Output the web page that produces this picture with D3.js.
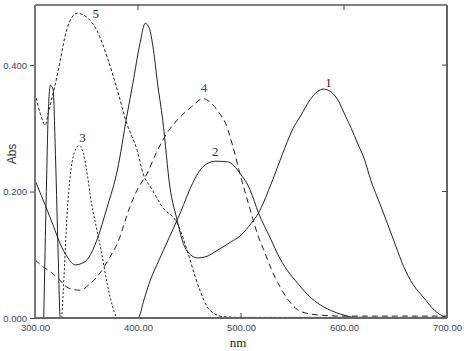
<!DOCTYPE html>
<html>
<head>
<meta charset="utf-8">
<script src="https://cdn.jsdelivr.net/npm/d3@7"></script>
<style>
  body { margin: 0; background: #fff; }
  svg { display: block; }
  .tick text { font-family: "Liberation Sans", Arial, sans-serif; font-size: 9.5px; fill: #3b4660; }
</style>
</head>
<body>
<svg width="464" height="351"></svg>
<script>
// spectra (wavelength in nm, absorbance)
const c1Nm  = [300,310,318,324,332,339,345,352,360,370,380,389,395,402,407,411,415,419,424,431,438,444,451,458,466,477,490,500,510,517,528,540,550,558,567,574,580,587,594,601,607,613,620,626,635,642,650,658,667,677,688,696,700];
const c1Abs = [0.218,0.178,0.145,0.119,0.095,0.084,0.086,0.095,0.123,0.175,0.234,0.318,0.371,0.435,0.466,0.458,0.424,0.371,0.313,0.207,0.155,0.118,0.100,0.095,0.097,0.107,0.120,0.131,0.150,0.166,0.207,0.258,0.298,0.320,0.345,0.358,0.362,0.358,0.345,0.321,0.300,0.277,0.250,0.218,0.180,0.150,0.115,0.081,0.053,0.033,0.012,0.003,0];

const c2Nm  = [308.5,311,313,315,317.5,320,322.5,324.5,360,400,406,412,420,428,441,453,463,475,487,499,509,517,528,535,545,555,564,574,587,599,610,700];
const c2Abs = [0,0.2,0.33,0.368,0.362,0.25,0.1,0,0,0,0.03,0.06,0.09,0.119,0.166,0.213,0.239,0.248,0.247,0.229,0.202,0.166,0.128,0.103,0.075,0.055,0.038,0.024,0.012,0.005,0.001,0];

const c3Nm  = [326,328,331,335,339,343,347,350,355,360,365,370,375,379];
const c3Abs = [0,0.06,0.16,0.235,0.265,0.273,0.26,0.235,0.18,0.14,0.10,0.055,0.02,0];

const c4Nm  = [300,307,315,324,330,337,344,352,363,372,380,392,399,409,418,428,441,452,463,471,478,485,492,499,509,517,522,530,538,546,555,565,574,600,650,700];
const c4Abs = [0.092,0.082,0.073,0.060,0.050,0.045,0.044,0.052,0.071,0.094,0.118,0.175,0.202,0.229,0.262,0.292,0.318,0.334,0.347,0.340,0.326,0.308,0.272,0.228,0.171,0.128,0.108,0.075,0.049,0.028,0.013,0.007,0.005,0.003,0.003,0.003];

const c5Nm  = [300,305,310,313,319,324,329,336,341,350,360,370,380,389,399,405,413,424,438,450,455,461,467,474,483,500,600,700];
const c5Abs = [0.356,0.324,0.305,0.325,0.365,0.403,0.444,0.476,0.482,0.476,0.455,0.413,0.360,0.308,0.266,0.228,0.205,0.175,0.150,0.095,0.068,0.040,0.018,0.007,0.002,0.001,0.001,0.001];

const curveNames = ['1','2','3','4','5'];
const labelNm  = [585, 475, 346, 464, 359];
const labelAbs = [0.365, 0.256, 0.278, 0.357, 0.474];

const xTicks = [300, 400, 500, 600, 700];
const yTicks = [0, 0.2, 0.4];

const svg = d3.select('svg');
const x = d3.scaleLinear().domain([300, 700]).range([35, 447]);
const y = d3.scaleLinear().domain([0, 0.495]).range([318, 5]);

const series = [
  { nm: c1Nm, abs: c1Abs, dash: null },
  { nm: c2Nm, abs: c2Abs, dash: null },
  { nm: c3Nm, abs: c3Abs, dash: '2,2' },
  { nm: c4Nm, abs: c4Abs, dash: '6,4' },
  { nm: c5Nm, abs: c5Abs, dash: '3,2' }
];

const line = d3.line()
  .x(d => x(d[0]))
  .y(d => y(d[1]))
  .curve(d3.curveMonotoneX);

svg.append('g').selectAll('path')
  .data(series)
  .enter().append('path')
  .attr('d', s => line(s.nm.map((n, i) => [n, s.abs[i]])))
  .attr('fill', 'none')
  .attr('stroke', '#222')
  .attr('stroke-width', 1)
  .attr('stroke-dasharray', s => s.dash);

// frame
svg.append('line').attr('x1', x(300)).attr('x2', x(700)).attr('y1', y(0.495)).attr('y2', y(0.495))
  .attr('stroke', '#555').attr('stroke-width', 1.5);
svg.append('line').attr('x1', x(700)).attr('x2', x(700)).attr('y1', y(0.495)).attr('y2', y(0))
  .attr('stroke', '#666').attr('stroke-width', 2);

// left axis
const yAxis = svg.append('g')
  .attr('transform', `translate(${x(300)},0)`)
  .call(d3.axisLeft(y).tickValues(yTicks).tickFormat(d3.format('.3f')).tickSize(5).tickPadding(3));
yAxis.select('.domain').remove();
yAxis.selectAll('.tick line').attr('stroke', '#444');
svg.append('line').attr('x1', x(300)).attr('x2', x(300)).attr('y1', y(0.495)).attr('y2', y(0))
  .attr('stroke', '#777').attr('stroke-width', 2);

// right inward ticks
svg.append('g').selectAll('line')
  .data(yTicks.filter(d => d > 0))
  .enter().append('line')
  .attr('x1', x(700) - 5).attr('x2', x(700))
  .attr('y1', d => y(d)).attr('y2', d => y(d))
  .attr('stroke', '#444');

// bottom axis
const xAxis = svg.append('g')
  .attr('transform', `translate(0,${y(0)})`)
  .call(d3.axisBottom(x).tickValues(xTicks).tickFormat(d3.format('.2f')).tickSize(0).tickPadding(6));
xAxis.select('.domain').remove();
svg.append('line').attr('x1', x(300)).attr('x2', x(700)).attr('y1', y(0)).attr('y2', y(0))
  .attr('stroke', '#666').attr('stroke-width', 2);

// inward ticks, alternating bottom/top
svg.append('g').selectAll('line')
  .data([500])
  .enter().append('line')
  .attr('x1', d => x(d)).attr('x2', d => x(d))
  .attr('y1', y(0) - 5).attr('y2', y(0))
  .attr('stroke', '#444');
svg.append('g').selectAll('line')
  .data([400, 600])
  .enter().append('line')
  .attr('x1', d => x(d)).attr('x2', d => x(d))
  .attr('y1', y(0.495)).attr('y2', y(0.495) + 5)
  .attr('stroke', '#444');

// curve numbers
svg.append('g').selectAll('text')
  .data(curveNames)
  .enter().append('text')
  .attr('x', (d, i) => x(labelNm[i]))
  .attr('y', (d, i) => y(labelAbs[i]))
  .attr('text-anchor', 'middle')
  .attr('font-family', '"Liberation Serif", "Times New Roman", serif')
  .attr('font-size', 13)
  .attr('fill', d => d === '4' ? '#2b4a8c' : '#2a2a2a')
  .text(d => d);

svg.append('text')
  .attr('transform', 'translate(16,154) rotate(-90)')
  .attr('text-anchor', 'middle')
  .attr('font-family', '"Liberation Sans", Arial, sans-serif')
  .attr('font-size', 12)
  .attr('fill', '#333')
  .text('Abs');

svg.append('text')
  .attr('x', 238)
  .attr('y', 347)
  .attr('text-anchor', 'middle')
  .attr('font-family', '"Liberation Serif", "Times New Roman", serif')
  .attr('font-size', 13)
  .attr('fill', '#222')
  .text('nm');
</script>
</body>
</html>
